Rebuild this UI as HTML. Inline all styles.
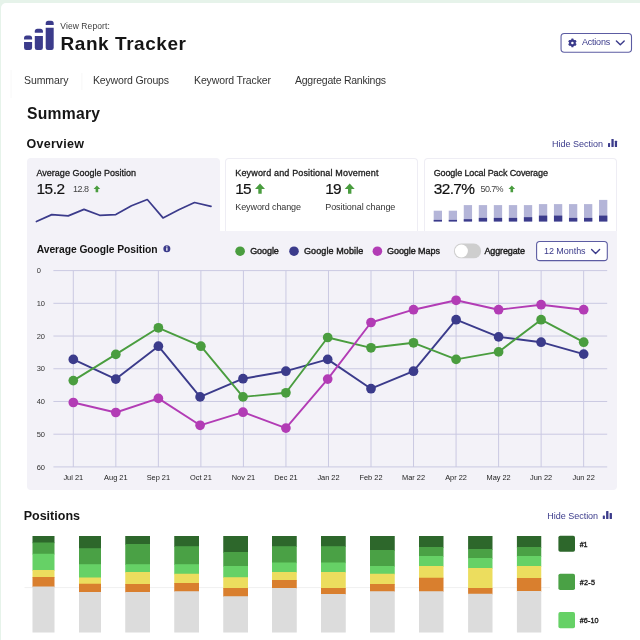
<!DOCTYPE html>
<html><head><meta charset="utf-8"><title>Rank Tracker</title>
<style>
html,body{margin:0;padding:0}
body{width:640px;height:640px;overflow:hidden;background:#e6f3ea;font-family:"Liberation Sans", sans-serif;position:relative}
.page{position:absolute;left:1px;top:2.5px;width:660px;height:660px;background:#fff;border-radius:5px 0 0 0}
.t{position:absolute;white-space:pre;display:block}
.abs{position:absolute}
.card{position:absolute;box-sizing:border-box;background:#fff;border:1px solid #eeedf4;border-bottom:none;border-radius:4px 4px 0 0}
svg{position:absolute;left:0;top:0;overflow:visible}
</style></head><body>
<div class="page"></div>
<!-- active card + chart panel -->
<div class="abs" style="left:26.6px;top:158px;width:193.4px;height:80px;background:#f3f2f8;border-radius:4px 4px 0 0"></div>
<div class="abs" style="left:26.6px;top:231px;width:590.4px;height:259px;background:#f3f2f8;border-radius:0 0 4px 4px"></div>
<div class="card" style="left:225px;top:158px;width:192.5px;height:73px"></div>
<div class="card" style="left:424px;top:158px;width:192.5px;height:73px"></div>
<svg width="640" height="640" viewBox="0 0 640 640">
<!-- tab shade -->
<rect x="10.3" y="70" width="1.6" height="28" fill="#000" opacity="0.02"/><rect x="81" y="73" width="1.6" height="17" fill="#000" opacity="0.02"/>
<!-- buttons -->
<rect x="561.05" y="33.45" width="70.45" height="18.75" rx="3.2" fill="#fff" stroke="#5c5ca2" stroke-width="1.1"/>
<rect x="536.6" y="241.55" width="70.7" height="19.1" rx="3.2" fill="#fff" stroke="#5c5ca2" stroke-width="1.1"/>
<rect x="453.9" y="243.5" width="27.2" height="14.8" rx="7.4" fill="#cecece"/>
<circle cx="461.4" cy="251" r="6.5" fill="#fff"/>
<!-- logo -->
<g fill="#3b3b8b">
<path d="M24.05 39.4 V38.2 a2.6 2.6 0 0 1 2.6 -2.6 H29.5 a2.6 2.6 0 0 1 2.6 2.6 V39.4 z"/>
<path d="M24.05 42.1 H32.1 V47.8 a2.2 2.2 0 0 1 -2.2 2.2 H26.25 a2.2 2.2 0 0 1 -2.2 -2.2 z"/>
<path d="M34.8 32.7 V31.3 a2.6 2.6 0 0 1 2.6 -2.6 H40.3 a2.6 2.6 0 0 1 2.6 2.6 V32.7 z"/>
<path d="M34.8 35.9 H42.9 V47.8 a2.2 2.2 0 0 1 -2.2 2.2 H37.0 a2.2 2.2 0 0 1 -2.2 -2.2 z"/>
<path d="M45.7 24.9 V23.400000000000002 a2.6 2.6 0 0 1 2.6 -2.6 H51.1 a2.6 2.6 0 0 1 2.6 2.6 V24.9 z"/>
<path d="M45.7 27.8 H53.7 V47.8 a2.2 2.2 0 0 1 -2.2 2.2 H47.900000000000006 a2.2 2.2 0 0 1 -2.2 -2.2 z"/>
</g>
<!-- gear -->
<g transform="translate(572.4 42.9)" fill="#3b3b8b">
<circle r="3.3"/>
<g><rect x="-1.1" y="-4.3" width="2.2" height="8.6" rx="0.5"/><rect x="-1.1" y="-4.3" width="2.2" height="8.6" rx="0.5" transform="rotate(60)"/><rect x="-1.1" y="-4.3" width="2.2" height="8.6" rx="0.5" transform="rotate(120)"/></g>
<circle r="1.25" fill="#fff"/>
</g>
<!-- chevrons -->
<polyline points="616.4,40.9 620.3,44.8 624.2,40.9" fill="none" stroke="#3b3b8b" stroke-width="1.4" stroke-linecap="round" stroke-linejoin="round"/>
<polyline points="591.6,249.6 595.6,253.4 599.6,249.6" fill="none" stroke="#3b3b8b" stroke-width="1.4" stroke-linecap="round" stroke-linejoin="round"/>
<!-- hide section icons -->
<g fill="#3b3b8b">
<rect x="608" y="143" width="2.05" height="3.9" rx="0.5"/><rect x="611.4" y="138.9" width="2.3" height="8" rx="0.5"/><rect x="614.8" y="140.75" width="2.25" height="6.15" rx="0.5"/>
<rect x="602.8" y="515.4" width="2.1" height="3.6" rx="0.5"/><rect x="606.1" y="511.1" width="2.35" height="7.9" rx="0.5"/><rect x="609.6" y="513" width="2.35" height="6" rx="0.5"/>
</g>
<!-- arrows -->
<g fill="#4a9d3f">
<path d="M96.9 185.4 l3.3 3.5 h-2 v3.4 h-2.6 v-3.4 h-2 z"/>
<path d="M511.8 185.4 l3.3 3.5 h-2 v3.4 h-2.6 v-3.4 h-2 z"/>
<path d="M260 183.6 l5 5.3 h-3.3 v4.9 h-3.4 v-4.9 h-3.3 z"/>
<path d="M349.7 183.6 l5 5.3 h-3.3 v4.9 h-3.4 v-4.9 h-3.3 z"/>
</g>
<!-- sparkline -->
<polyline points="36.4,221.5 51.8,214.6 68.2,215.9 84,209.4 99.7,215.3 115.8,214.6 131.5,205.8 147.3,199.5 163,217.9 178.8,209.7 194.5,202.5 211,206.4" fill="none" stroke="#3b3b8b" stroke-width="1.7" stroke-linejoin="round" stroke-linecap="round"/>
<rect x="433.70" y="210.70" width="8.3" height="10.80" fill="#b4b5d8"/><rect x="433.70" y="219.90" width="8.3" height="1.60" fill="#3b3b8b"/><rect x="448.73" y="210.70" width="8.3" height="10.80" fill="#b4b5d8"/><rect x="448.73" y="219.90" width="8.3" height="1.60" fill="#3b3b8b"/><rect x="463.76" y="205.10" width="8.3" height="16.40" fill="#b4b5d8"/><rect x="463.76" y="219.20" width="8.3" height="2.30" fill="#3b3b8b"/><rect x="478.79" y="205.10" width="8.3" height="16.40" fill="#b4b5d8"/><rect x="478.79" y="217.90" width="8.3" height="3.60" fill="#3b3b8b"/><rect x="493.82" y="205.10" width="8.3" height="16.40" fill="#b4b5d8"/><rect x="493.82" y="217.90" width="8.3" height="3.60" fill="#3b3b8b"/><rect x="508.85" y="205.10" width="8.3" height="16.40" fill="#b4b5d8"/><rect x="508.85" y="217.90" width="8.3" height="3.60" fill="#3b3b8b"/><rect x="523.88" y="205.10" width="8.3" height="16.40" fill="#b4b5d8"/><rect x="523.88" y="217.20" width="8.3" height="4.30" fill="#3b3b8b"/><rect x="538.91" y="204.10" width="8.3" height="17.40" fill="#b4b5d8"/><rect x="538.91" y="215.60" width="8.3" height="5.90" fill="#3b3b8b"/><rect x="553.94" y="204.10" width="8.3" height="17.40" fill="#b4b5d8"/><rect x="553.94" y="215.60" width="8.3" height="5.90" fill="#3b3b8b"/><rect x="568.97" y="204.10" width="8.3" height="17.40" fill="#b4b5d8"/><rect x="568.97" y="217.90" width="8.3" height="3.60" fill="#3b3b8b"/><rect x="584.00" y="204.10" width="8.3" height="17.40" fill="#b4b5d8"/><rect x="584.00" y="217.90" width="8.3" height="3.60" fill="#3b3b8b"/><rect x="599.03" y="199.90" width="8.3" height="21.60" fill="#b4b5d8"/><rect x="599.03" y="215.60" width="8.3" height="5.90" fill="#3b3b8b"/>
<!-- info icon -->
<circle cx="166.85" cy="248.7" r="3.5" fill="#3b3b8b"/>
<rect x="166.2" y="248.1" width="1.3" height="2.7" fill="#fff"/><rect x="166.2" y="246.4" width="1.3" height="1.1" fill="#fff"/>
<!-- legend dots -->
<circle cx="240.1" cy="251.2" r="4.8" fill="#4a9d3f"/><circle cx="294" cy="251.2" r="4.8" fill="#3b3b8b"/><circle cx="377.4" cy="251.2" r="4.8" fill="#b23cb5"/>
<!-- grid -->
<g stroke="#cac9e2" stroke-width="1"><line x1="53.4" x2="607.2" y1="270.60" y2="270.60"/><line x1="53.4" x2="607.2" y1="303.32" y2="303.32"/><line x1="53.4" x2="607.2" y1="336.04" y2="336.04"/><line x1="53.4" x2="607.2" y1="368.76" y2="368.76"/><line x1="53.4" x2="607.2" y1="401.48" y2="401.48"/><line x1="53.4" x2="607.2" y1="434.20" y2="434.20"/><line x1="53.4" x2="607.2" y1="466.92" y2="466.92"/><line x1="73.30" x2="73.30" y1="270.6" y2="467"/><line x1="115.83" x2="115.83" y1="270.6" y2="467"/><line x1="158.36" x2="158.36" y1="270.6" y2="467"/><line x1="200.89" x2="200.89" y1="270.6" y2="467"/><line x1="243.42" x2="243.42" y1="270.6" y2="467"/><line x1="285.95" x2="285.95" y1="270.6" y2="467"/><line x1="328.48" x2="328.48" y1="270.6" y2="467"/><line x1="371.01" x2="371.01" y1="270.6" y2="467"/><line x1="413.54" x2="413.54" y1="270.6" y2="467"/><line x1="456.07" x2="456.07" y1="270.6" y2="467"/><line x1="498.60" x2="498.60" y1="270.6" y2="467"/><line x1="541.13" x2="541.13" y1="270.6" y2="467"/><line x1="583.66" x2="583.66" y1="270.6" y2="467"/></g>
<polyline points="73.3,359.4 115.8,379.1 158.4,346.2 200.1,396.9 243.0,378.7 285.9,371.2 327.7,359.4 371.0,388.7 413.5,371.2 456.1,319.7 498.6,336.9 541.1,342.2 583.7,354.1" fill="none" stroke="#3b3b8b" stroke-width="1.9" stroke-linejoin="round"/><circle cx="73.3" cy="359.4" r="4.85" fill="#3b3b8b"/><circle cx="115.8" cy="379.1" r="4.85" fill="#3b3b8b"/><circle cx="158.4" cy="346.2" r="4.85" fill="#3b3b8b"/><circle cx="200.1" cy="396.9" r="4.85" fill="#3b3b8b"/><circle cx="243.0" cy="378.7" r="4.85" fill="#3b3b8b"/><circle cx="285.9" cy="371.2" r="4.85" fill="#3b3b8b"/><circle cx="327.7" cy="359.4" r="4.85" fill="#3b3b8b"/><circle cx="371.0" cy="388.7" r="4.85" fill="#3b3b8b"/><circle cx="413.5" cy="371.2" r="4.85" fill="#3b3b8b"/><circle cx="456.1" cy="319.7" r="4.85" fill="#3b3b8b"/><circle cx="498.6" cy="336.9" r="4.85" fill="#3b3b8b"/><circle cx="541.1" cy="342.2" r="4.85" fill="#3b3b8b"/><circle cx="583.7" cy="354.1" r="4.85" fill="#3b3b8b"/>
<polyline points="73.3,380.6 115.8,354.4 158.4,327.8 200.9,346.2 243.0,396.9 285.9,392.8 327.7,337.5 371.0,347.8 413.5,342.8 456.1,359.4 498.6,351.9 541.1,319.7 583.7,342.2" fill="none" stroke="#4a9d3f" stroke-width="1.9" stroke-linejoin="round"/><circle cx="73.3" cy="380.6" r="4.85" fill="#4a9d3f"/><circle cx="115.8" cy="354.4" r="4.85" fill="#4a9d3f"/><circle cx="158.4" cy="327.8" r="4.85" fill="#4a9d3f"/><circle cx="200.9" cy="346.2" r="4.85" fill="#4a9d3f"/><circle cx="243.0" cy="396.9" r="4.85" fill="#4a9d3f"/><circle cx="285.9" cy="392.8" r="4.85" fill="#4a9d3f"/><circle cx="327.7" cy="337.5" r="4.85" fill="#4a9d3f"/><circle cx="371.0" cy="347.8" r="4.85" fill="#4a9d3f"/><circle cx="413.5" cy="342.8" r="4.85" fill="#4a9d3f"/><circle cx="456.1" cy="359.4" r="4.85" fill="#4a9d3f"/><circle cx="498.6" cy="351.9" r="4.85" fill="#4a9d3f"/><circle cx="541.1" cy="319.7" r="4.85" fill="#4a9d3f"/><circle cx="583.7" cy="342.2" r="4.85" fill="#4a9d3f"/>
<polyline points="73.3,402.5 115.8,412.5 158.4,398.4 200.1,425.3 243.0,412.2 285.9,428.1 327.7,379.1 371.0,322.5 413.5,309.7 456.1,300.3 498.6,309.7 541.1,304.7 583.7,309.7" fill="none" stroke="#b23cb5" stroke-width="1.9" stroke-linejoin="round"/><circle cx="73.3" cy="402.5" r="4.85" fill="#b23cb5"/><circle cx="115.8" cy="412.5" r="4.85" fill="#b23cb5"/><circle cx="158.4" cy="398.4" r="4.85" fill="#b23cb5"/><circle cx="200.1" cy="425.3" r="4.85" fill="#b23cb5"/><circle cx="243.0" cy="412.2" r="4.85" fill="#b23cb5"/><circle cx="285.9" cy="428.1" r="4.85" fill="#b23cb5"/><circle cx="327.7" cy="379.1" r="4.85" fill="#b23cb5"/><circle cx="371.0" cy="322.5" r="4.85" fill="#b23cb5"/><circle cx="413.5" cy="309.7" r="4.85" fill="#b23cb5"/><circle cx="456.1" cy="300.3" r="4.85" fill="#b23cb5"/><circle cx="498.6" cy="309.7" r="4.85" fill="#b23cb5"/><circle cx="541.1" cy="304.7" r="4.85" fill="#b23cb5"/><circle cx="583.7" cy="309.7" r="4.85" fill="#b23cb5"/>
<!-- stacked bars -->
<line x1="24.5" x2="550" y1="587.6" y2="587.6" stroke="#f0f0f0" stroke-width="1"/>
<rect x="32.50" y="536.00" width="22.00" height="7.20" fill="#2d672b"/><rect x="32.50" y="542.50" width="22.00" height="11.95" fill="#4aa145"/><rect x="32.50" y="553.75" width="22.00" height="16.95" fill="#66d166"/><rect x="32.50" y="570.00" width="22.00" height="7.70" fill="#ecdd5e"/><rect x="32.50" y="577.00" width="22.00" height="10.20" fill="#d97f2e"/><rect x="32.50" y="586.50" width="22.00" height="46.00" fill="#dcdcdc"/><rect x="79.00" y="536.00" width="22.00" height="12.95" fill="#2d672b"/><rect x="79.00" y="548.25" width="22.00" height="16.70" fill="#4aa145"/><rect x="79.00" y="564.25" width="22.00" height="13.95" fill="#66d166"/><rect x="79.00" y="577.50" width="22.00" height="6.95" fill="#ecdd5e"/><rect x="79.00" y="583.75" width="22.00" height="8.95" fill="#d97f2e"/><rect x="79.00" y="592.00" width="22.00" height="40.50" fill="#dcdcdc"/><rect x="125.25" y="536.00" width="24.75" height="8.70" fill="#2d672b"/><rect x="125.25" y="544.00" width="24.75" height="20.95" fill="#4aa145"/><rect x="125.25" y="564.25" width="24.75" height="8.45" fill="#66d166"/><rect x="125.25" y="572.00" width="24.75" height="12.70" fill="#ecdd5e"/><rect x="125.25" y="584.00" width="24.75" height="8.70" fill="#d97f2e"/><rect x="125.25" y="592.00" width="24.75" height="40.50" fill="#dcdcdc"/><rect x="174.25" y="536.00" width="24.75" height="10.95" fill="#2d672b"/><rect x="174.25" y="546.25" width="24.75" height="18.70" fill="#4aa145"/><rect x="174.25" y="564.25" width="24.75" height="10.20" fill="#66d166"/><rect x="174.25" y="573.75" width="24.75" height="9.95" fill="#ecdd5e"/><rect x="174.25" y="583.00" width="24.75" height="8.95" fill="#d97f2e"/><rect x="174.25" y="591.25" width="24.75" height="41.25" fill="#dcdcdc"/><rect x="223.25" y="536.00" width="24.75" height="16.70" fill="#2d672b"/><rect x="223.25" y="552.00" width="24.75" height="14.70" fill="#4aa145"/><rect x="223.25" y="566.00" width="24.75" height="11.95" fill="#66d166"/><rect x="223.25" y="577.25" width="24.75" height="11.45" fill="#ecdd5e"/><rect x="223.25" y="588.00" width="24.75" height="8.95" fill="#d97f2e"/><rect x="223.25" y="596.25" width="24.75" height="36.25" fill="#dcdcdc"/><rect x="272.00" y="536.00" width="24.75" height="10.95" fill="#2d672b"/><rect x="272.00" y="546.25" width="24.75" height="16.95" fill="#4aa145"/><rect x="272.00" y="562.50" width="24.75" height="10.20" fill="#66d166"/><rect x="272.00" y="572.00" width="24.75" height="8.70" fill="#ecdd5e"/><rect x="272.00" y="580.00" width="24.75" height="8.70" fill="#d97f2e"/><rect x="272.00" y="588.00" width="24.75" height="44.50" fill="#dcdcdc"/><rect x="321.00" y="536.00" width="24.75" height="10.95" fill="#2d672b"/><rect x="321.00" y="546.25" width="24.75" height="16.95" fill="#4aa145"/><rect x="321.00" y="562.50" width="24.75" height="10.20" fill="#66d166"/><rect x="321.00" y="572.00" width="24.75" height="16.70" fill="#ecdd5e"/><rect x="321.00" y="588.00" width="24.75" height="6.70" fill="#d97f2e"/><rect x="321.00" y="594.00" width="24.75" height="38.50" fill="#dcdcdc"/><rect x="370.00" y="536.00" width="24.75" height="14.70" fill="#2d672b"/><rect x="370.00" y="550.00" width="24.75" height="16.70" fill="#4aa145"/><rect x="370.00" y="566.00" width="24.75" height="8.45" fill="#66d166"/><rect x="370.00" y="573.75" width="24.75" height="10.95" fill="#ecdd5e"/><rect x="370.00" y="584.00" width="24.75" height="7.95" fill="#d97f2e"/><rect x="370.00" y="591.25" width="24.75" height="41.25" fill="#dcdcdc"/><rect x="419.00" y="536.00" width="24.50" height="11.70" fill="#2d672b"/><rect x="419.00" y="547.00" width="24.50" height="9.70" fill="#4aa145"/><rect x="419.00" y="556.00" width="24.50" height="10.70" fill="#66d166"/><rect x="419.00" y="566.00" width="24.50" height="12.45" fill="#ecdd5e"/><rect x="419.00" y="577.75" width="24.50" height="14.20" fill="#d97f2e"/><rect x="419.00" y="591.25" width="24.50" height="41.25" fill="#dcdcdc"/><rect x="468.10" y="536.00" width="24.40" height="13.70" fill="#2d672b"/><rect x="468.10" y="549.00" width="24.40" height="9.70" fill="#4aa145"/><rect x="468.10" y="558.00" width="24.40" height="10.70" fill="#66d166"/><rect x="468.10" y="568.00" width="24.40" height="20.70" fill="#ecdd5e"/><rect x="468.10" y="588.00" width="24.40" height="6.45" fill="#d97f2e"/><rect x="468.10" y="593.75" width="24.40" height="38.75" fill="#dcdcdc"/><rect x="516.90" y="536.00" width="24.35" height="11.70" fill="#2d672b"/><rect x="516.90" y="547.00" width="24.35" height="9.70" fill="#4aa145"/><rect x="516.90" y="556.00" width="24.35" height="10.70" fill="#66d166"/><rect x="516.90" y="566.00" width="24.35" height="12.70" fill="#ecdd5e"/><rect x="516.90" y="578.00" width="24.35" height="13.70" fill="#d97f2e"/><rect x="516.90" y="591.00" width="24.35" height="41.50" fill="#dcdcdc"/>
<rect x="558.4" y="535.8" width="16.6" height="16" rx="1.8" fill="#2d672b"/>
<rect x="558.4" y="573.8" width="16.6" height="16.2" rx="1.8" fill="#4aa145"/>
<rect x="558.4" y="612.1" width="16.6" height="16.1" rx="1.8" fill="#66d166"/>
</svg>
<div class="abs" style="left:0;top:0;width:640px;height:640px;will-change:transform">
<span class="t" style="left:60.30px;top:20.85px;font-size:8.5px;line-height:10px;font-weight:400;color:#3a3a3a;letter-spacing:0.089px">View Report:</span>
<span class="t" style="left:60.50px;top:31.62px;font-size:19px;line-height:23px;font-weight:700;color:#151515;letter-spacing:0.558px">Rank Tracker</span>
<span class="t" style="left:581.90px;top:37.18px;font-size:9px;line-height:11px;font-weight:400;color:#3b3b8b;letter-spacing:-0.194px">Actions</span>
<span class="t" style="left:24.00px;top:73.86px;font-size:10.5px;line-height:13px;font-weight:400;color:#333;letter-spacing:-0.073px">Summary</span>
<span class="t" style="left:93.00px;top:73.86px;font-size:10.5px;line-height:13px;font-weight:400;color:#333;letter-spacing:-0.169px">Keyword Groups</span>
<span class="t" style="left:194.00px;top:73.86px;font-size:10.5px;line-height:13px;font-weight:400;color:#333;letter-spacing:-0.127px">Keyword Tracker</span>
<span class="t" style="left:295.00px;top:73.86px;font-size:10.5px;line-height:13px;font-weight:400;color:#333;letter-spacing:-0.244px">Aggregate Rankings</span>
<span class="t" style="left:27.00px;top:104.06px;font-size:15.7px;line-height:19px;font-weight:700;color:#151515;letter-spacing:0.250px">Summary</span>
<span class="t" style="left:26.60px;top:136.87px;font-size:12.5px;line-height:15px;font-weight:700;color:#151515;letter-spacing:0.258px">Overview</span>
<span class="t" style="left:552.00px;top:138.88px;font-size:9px;line-height:11px;font-weight:400;color:#3b3b8b;letter-spacing:-0.003px">Hide Section</span>
<span class="t" style="left:36.50px;top:168.18px;font-size:9px;line-height:11px;font-weight:400;color:#1c1c1c;letter-spacing:0.004px;-webkit-text-stroke:0.30px #1c1c1c">Average Google Position</span>
<span class="t" style="left:36.50px;top:180.16px;font-size:15.4px;line-height:18px;font-weight:400;color:#111;letter-spacing:-0.490px;-webkit-text-stroke:0.20px #111">15.2</span>
<span class="t" style="left:73.00px;top:183.98px;font-size:9px;line-height:11px;font-weight:400;color:#444;letter-spacing:-0.510px">12.8</span>
<span class="t" style="left:235.30px;top:168.18px;font-size:9px;line-height:11px;font-weight:400;color:#1c1c1c;letter-spacing:0.151px;-webkit-text-stroke:0.30px #1c1c1c">Keyword and Positional Movement</span>
<span class="t" style="left:235.30px;top:180.16px;font-size:15.4px;line-height:18px;font-weight:400;color:#111;letter-spacing:-0.800px;-webkit-text-stroke:0.20px #111">15</span>
<span class="t" style="left:325.20px;top:180.16px;font-size:15.4px;line-height:18px;font-weight:400;color:#111;letter-spacing:-0.800px;-webkit-text-stroke:0.20px #111">19</span>
<span class="t" style="left:235.30px;top:201.58px;font-size:9px;line-height:11px;font-weight:400;color:#333;letter-spacing:-0.104px">Keyword change</span>
<span class="t" style="left:325.20px;top:201.58px;font-size:9px;line-height:11px;font-weight:400;color:#333;letter-spacing:-0.054px">Positional change</span>
<span class="t" style="left:433.70px;top:168.18px;font-size:9px;line-height:11px;font-weight:400;color:#1c1c1c;letter-spacing:-0.115px;-webkit-text-stroke:0.30px #1c1c1c">Google Local Pack Coverage</span>
<span class="t" style="left:433.70px;top:180.16px;font-size:15.4px;line-height:18px;font-weight:400;color:#111;letter-spacing:-0.585px;-webkit-text-stroke:0.20px #111">32.7%</span>
<span class="t" style="left:480.60px;top:183.98px;font-size:9px;line-height:11px;font-weight:400;color:#444;letter-spacing:-0.633px">50.7%</span>
<span class="t" style="left:36.75px;top:243.83px;font-size:10.3px;line-height:12px;font-weight:700;color:#151515;letter-spacing:-0.060px">Average Google Position</span>
<span class="t" style="left:250.20px;top:245.58px;font-size:9px;line-height:11px;font-weight:400;color:#1c1c1c;letter-spacing:-0.066px;-webkit-text-stroke:0.40px #1c1c1c">Google</span>
<span class="t" style="left:304.00px;top:245.58px;font-size:9px;line-height:11px;font-weight:400;color:#1c1c1c;letter-spacing:0.104px;-webkit-text-stroke:0.40px #1c1c1c">Google Mobile</span>
<span class="t" style="left:387.00px;top:245.58px;font-size:9px;line-height:11px;font-weight:400;color:#1c1c1c;letter-spacing:-0.063px;-webkit-text-stroke:0.40px #1c1c1c">Google Maps</span>
<span class="t" style="left:484.40px;top:245.58px;font-size:9px;line-height:11px;font-weight:400;color:#1c1c1c;letter-spacing:-0.118px;-webkit-text-stroke:0.40px #1c1c1c">Aggregate</span>
<span class="t" style="left:544.00px;top:245.98px;font-size:9px;line-height:11px;font-weight:400;color:#3b3b8b;letter-spacing:-0.054px">12 Months</span>
<span class="t" style="left:36.75px;top:266.30px;font-size:7.5px;line-height:9px;font-weight:400;color:#333;letter-spacing:-0.372px">0</span>
<span class="t" style="left:36.75px;top:299.02px;font-size:7.5px;line-height:9px;font-weight:400;color:#333;letter-spacing:-0.144px">10</span>
<span class="t" style="left:36.75px;top:331.74px;font-size:7.5px;line-height:9px;font-weight:400;color:#333;letter-spacing:-0.144px">20</span>
<span class="t" style="left:36.75px;top:364.46px;font-size:7.5px;line-height:9px;font-weight:400;color:#333;letter-spacing:-0.144px">30</span>
<span class="t" style="left:36.75px;top:397.18px;font-size:7.5px;line-height:9px;font-weight:400;color:#333;letter-spacing:-0.144px">40</span>
<span class="t" style="left:36.75px;top:429.90px;font-size:7.5px;line-height:9px;font-weight:400;color:#333;letter-spacing:-0.144px">50</span>
<span class="t" style="left:36.75px;top:462.62px;font-size:7.5px;line-height:9px;font-weight:400;color:#333;letter-spacing:-0.144px">60</span>
<span class="t" style="left:63.43px;top:473.44px;font-size:7.4px;line-height:9px;font-weight:400;color:#222;letter-spacing:0.000px">Jul 21</span>
<span class="t" style="left:104.11px;top:473.44px;font-size:7.4px;line-height:9px;font-weight:400;color:#222;letter-spacing:0.000px">Aug 21</span>
<span class="t" style="left:146.64px;top:473.44px;font-size:7.4px;line-height:9px;font-weight:400;color:#222;letter-spacing:0.000px">Sep 21</span>
<span class="t" style="left:190.00px;top:473.44px;font-size:7.4px;line-height:9px;font-weight:400;color:#222;letter-spacing:0.000px">Oct 21</span>
<span class="t" style="left:231.71px;top:473.44px;font-size:7.4px;line-height:9px;font-weight:400;color:#222;letter-spacing:0.000px">Nov 21</span>
<span class="t" style="left:274.24px;top:473.44px;font-size:7.4px;line-height:9px;font-weight:400;color:#222;letter-spacing:0.000px">Dec 21</span>
<span class="t" style="left:317.38px;top:473.44px;font-size:7.4px;line-height:9px;font-weight:400;color:#222;letter-spacing:0.000px">Jan 22</span>
<span class="t" style="left:359.50px;top:473.44px;font-size:7.4px;line-height:9px;font-weight:400;color:#222;letter-spacing:0.000px">Feb 22</span>
<span class="t" style="left:402.03px;top:473.44px;font-size:7.4px;line-height:9px;font-weight:400;color:#222;letter-spacing:0.000px">Mar 22</span>
<span class="t" style="left:445.18px;top:473.44px;font-size:7.4px;line-height:9px;font-weight:400;color:#222;letter-spacing:0.000px">Apr 22</span>
<span class="t" style="left:486.48px;top:473.44px;font-size:7.4px;line-height:9px;font-weight:400;color:#222;letter-spacing:0.000px">May 22</span>
<span class="t" style="left:530.03px;top:473.44px;font-size:7.4px;line-height:9px;font-weight:400;color:#222;letter-spacing:0.000px">Jun 22</span>
<span class="t" style="left:572.56px;top:473.44px;font-size:7.4px;line-height:9px;font-weight:400;color:#222;letter-spacing:0.000px">Jun 22</span>
<span class="t" style="left:23.70px;top:509.17px;font-size:12.5px;line-height:15px;font-weight:700;color:#151515;letter-spacing:0.004px">Positions</span>
<span class="t" style="left:547.25px;top:511.48px;font-size:9px;line-height:11px;font-weight:400;color:#3b3b8b;letter-spacing:-0.016px">Hide Section</span>
<span class="t" style="left:579.70px;top:539.61px;font-size:7.2px;line-height:9px;font-weight:400;color:#222;letter-spacing:-0.200px;-webkit-text-stroke:0.35px #222">#1</span>
<span class="t" style="left:579.70px;top:577.71px;font-size:7.2px;line-height:9px;font-weight:400;color:#222;letter-spacing:0.303px;-webkit-text-stroke:0.35px #222">#2-5</span>
<span class="t" style="left:579.70px;top:616.41px;font-size:7.2px;line-height:9px;font-weight:400;color:#222;letter-spacing:0.102px;-webkit-text-stroke:0.35px #222">#6-10</span>
</div>
</body></html>
